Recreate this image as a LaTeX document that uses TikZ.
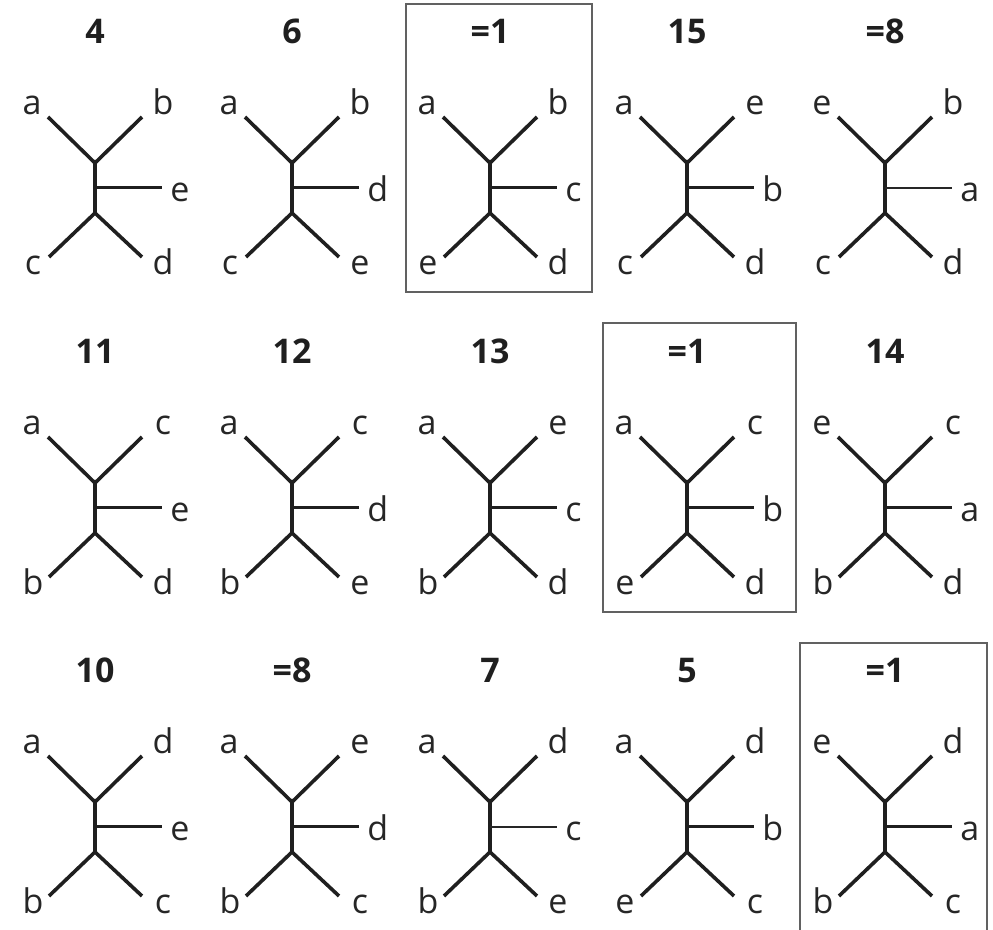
\documentclass[tikz,border=0pt]{standalone}
\usepackage{fontspec}
\setmainfont{Open Sans}
\tikzset{
  x=0.5pt, y=-0.5pt,
  branch/.style={line width=1.8pt, draw=black!88},
  midbranch/.style={line width=1.5pt, draw=black!88},
  thinmid/.style={line width=0.9pt, draw=black!85},
  leaflab/.style={inner sep=0pt, font=\fontsize{17}{19}\selectfont, text=black!85},
  titlelab/.style={inner sep=0pt, font=\fontsize{17}{19}\selectfont\bfseries, text=black!88},
  framebox/.style={draw=black!62, line width=0.7pt},
}
% #1 cx, #2 cy, #3 title, #4 UL, #5 UR, #6 R, #7 LL, #8 LR, #9 style of middle branch
\newcommand\phylotree[9]{%
  \coordinate (t#1-#2-u)  at (#1,#2-25);
  \coordinate (t#1-#2-l)  at (#1,#2+25);
  \coordinate (t#1-#2-m)  at (#1,#2);
  \coordinate (t#1-#2-ul) at (#1-47,#2-71);
  \coordinate (t#1-#2-ur) at (#1+47,#2-71);
  \coordinate (t#1-#2-ll) at (#1-46,#2+69);
  \coordinate (t#1-#2-lr) at (#1+47,#2+69);
  \coordinate (t#1-#2-r)  at (#1+67,#2);
  \draw[branch] (t#1-#2-ul) -- (t#1-#2-u) -- (t#1-#2-ur);
  \draw[branch] (t#1-#2-ll) -- (t#1-#2-l) -- (t#1-#2-lr);
  \draw[branch] (t#1-#2-u) -- (t#1-#2-l);
  \draw[#9] (t#1-#2-m) -- (t#1-#2-r);
  \node[titlelab, anchor=base] (t#1-#2-title) at (#1,#2-144) {#3};
  \node[leaflab, anchor=base] (t#1-#2-ULlab) at (#1-63,#2-73) {#4};
  \node[leaflab, anchor=base] (t#1-#2-URlab) at (#1+68,#2-73) {#5};
  \node[leaflab, anchor=base west] (t#1-#2-Rlab) at (#1+75,#2+14) {#6};
  \node[leaflab, anchor=base] (t#1-#2-LLlab) at (#1-62,#2+87) {#7};
  \node[leaflab, anchor=base] (t#1-#2-LRlab) at (#1+68,#2+87) {#8};
}
\begin{document}
\begin{tikzpicture}
  \useasboundingbox (0,0) rectangle (993,930);
  % frames
  \draw[framebox] (406,4) rectangle (592,292);
  \draw[framebox] (603,323) rectangle (796,612);
  \draw[framebox] (800,643) rectangle (987,940);
  % row 1
  \phylotree{95}{188}{4}{a}{b}{e}{c}{d}{midbranch}
  \phylotree{292}{188}{6}{a}{b}{d}{c}{e}{midbranch}
  \phylotree{490}{188}{=1}{a}{b}{c}{e}{d}{midbranch}
  \phylotree{687}{188}{15}{a}{e}{b}{c}{d}{midbranch}
  \phylotree{885}{188}{=8}{e}{b}{a}{c}{d}{thinmid}
  % row 2
  \phylotree{95}{508}{11}{a}{c}{e}{b}{d}{midbranch}
  \phylotree{292}{508}{12}{a}{c}{d}{b}{e}{midbranch}
  \phylotree{490}{508}{13}{a}{e}{c}{b}{d}{midbranch}
  \phylotree{687}{508}{=1}{a}{c}{b}{e}{d}{midbranch}
  \phylotree{885}{508}{14}{e}{c}{a}{b}{d}{midbranch}
  % row 3
  \phylotree{95}{827}{10}{a}{d}{e}{b}{c}{midbranch}
  \phylotree{292}{827}{=8}{a}{e}{d}{b}{c}{midbranch}
  \phylotree{490}{827}{7}{a}{d}{c}{b}{e}{thinmid}
  \phylotree{687}{827}{5}{a}{d}{b}{e}{c}{midbranch}
  \phylotree{885}{827}{=1}{e}{d}{a}{b}{c}{midbranch}
\end{tikzpicture}
\end{document}
